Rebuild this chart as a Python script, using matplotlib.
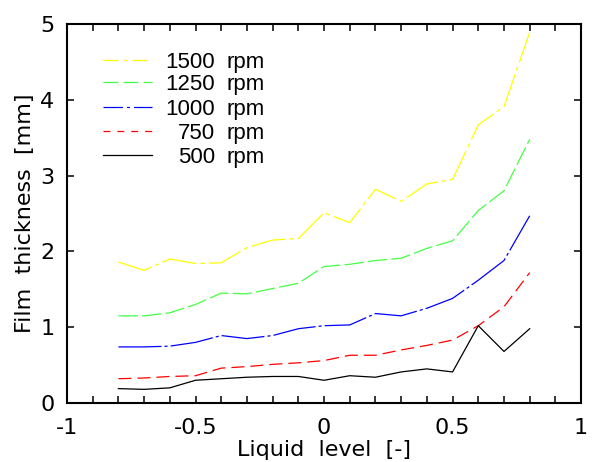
import matplotlib
matplotlib.use("Agg")
import matplotlib.pyplot as plt
from matplotlib.ticker import MultipleLocator

plt.rcParams["font.family"] = ["DejaVu Sans"]
plt.rcParams["lines.scale_dashes"] = False

level = [-0.8, -0.7, -0.6, -0.5, -0.4, -0.3, -0.2, -0.1, 0.0,
         0.1, 0.2, 0.3, 0.4, 0.5, 0.6, 0.7, 0.8]

rpm1500 = [1.86, 1.75, 1.90, 1.84, 1.85, 2.05, 2.15, 2.17, 2.51,
           2.38, 2.82, 2.66, 2.89, 2.95, 3.67, 3.91, 4.89]
rpm1250 = [1.15, 1.15, 1.19, 1.30, 1.45, 1.44, 1.51, 1.58, 1.80,
           1.83, 1.88, 1.91, 2.04, 2.14, 2.54, 2.80, 3.48]
rpm1000 = [0.74, 0.74, 0.75, 0.80, 0.89, 0.85, 0.89, 0.98, 1.02,
           1.03, 1.18, 1.15, 1.25, 1.38, 1.62, 1.88, 2.47]
rpm750 = [0.32, 0.33, 0.35, 0.36, 0.46, 0.48, 0.51, 0.53, 0.56,
          0.63, 0.63, 0.70, 0.76, 0.83, 1.02, 1.27, 1.72]
rpm500 = [0.19, 0.18, 0.20, 0.30, 0.32, 0.34, 0.35, 0.35, 0.30,
          0.36, 0.34, 0.41, 0.45, 0.41, 1.02, 0.68, 0.98]

speeds = ["1500", "1250", "1000", "750", "500"]
series = [rpm1500, rpm1250, rpm1000, rpm750, rpm500]
colors = ["#ffff00", "#44ff44", "#0000ff", "#ff0000", "#000000"]
# dash patterns are longer on the curves than in the key (as in the original)
plot_dashes = [(25, 3, 3, 3), (14, 3), (31, 2.2, 2.2, 2.2), (9.4, 4.3), None]
key_dashes = [(10.8, 3.6, 2.9, 3.6), (10.8, 3.6), (14, 3, 2, 3), (5, 5), None]

fig = plt.figure(figsize=(5.96, 4.62), dpi=100)
ax = fig.add_axes([0.1124, 0.1277, 0.8626, 0.8203])

# legend drawn by hand so the numbers line up on the right like the original
leg_y = [0.905, 0.847, 0.781, 0.718, 0.654]
for ys, name, c, d, kd, ly in zip(series, speeds, colors, plot_dashes, key_dashes, leg_y):
    kw = {} if d is None else {"dashes": d}
    kkw = {} if kd is None else {"dashes": kd}
    ax.plot(level, ys, color=c, lw=0.9, **kw)
    ax.plot([0.070, 0.165], [ly, ly], color=c, lw=0.9, transform=ax.transAxes, **kkw)
    ax.text(0.288, ly - 0.006, name, transform=ax.transAxes, ha="right", va="center",
            fontsize=16, family="Liberation Sans")
    ax.text(0.311, ly - 0.006, "rpm", transform=ax.transAxes, ha="left", va="center",
            fontsize=16, family="Liberation Sans")

ax.set_xlim(-1, 1)
ax.set_ylim(0, 5)
ax.xaxis.set_major_locator(MultipleLocator(0.5))
ax.xaxis.set_minor_locator(MultipleLocator(0.1))
ax.yaxis.set_major_locator(MultipleLocator(1))
ax.xaxis.set_major_formatter(plt.FuncFormatter(lambda v, p: f"{v:g}"))
ax.yaxis.set_major_formatter(plt.FuncFormatter(lambda v, p: f"{v:g}"))
ax.tick_params(which="both", direction="in", top=True, right=True, labelsize=16,
               width=1.1, length=5)
ax.tick_params(axis="x", which="major", pad=11)
ax.tick_params(axis="y", which="major", pad=9)
for s in ax.spines.values():
    s.set_linewidth(1.5)

ax.set_xlabel("Liquid  level  [-]", fontsize=16, labelpad=1)
ax.set_ylabel("Film  thickness  [mm]", fontsize=16, labelpad=4)

fig.savefig("out.png", dpi=100)
